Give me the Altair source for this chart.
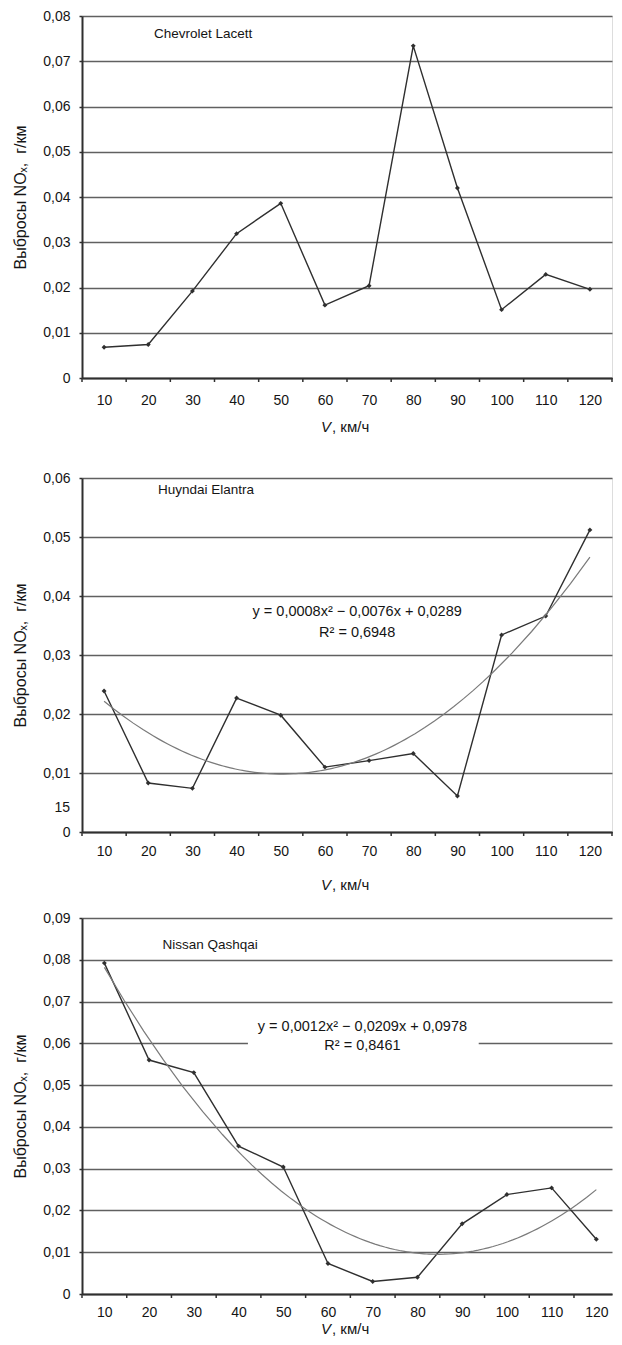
import altair as alt
import pandas as pd

# ---------------- data ----------------
speeds = [10, 20, 30, 40, 50, 60, 70, 80, 90, 100, 110, 120]
chevrolet_nox = [0.0068, 0.0074, 0.0192, 0.0319, 0.0386, 0.0161, 0.0204, 0.0734, 0.0420, 0.0151, 0.0229, 0.0196]
hyundai_nox = [0.0239, 0.0083, 0.0074, 0.0227, 0.0198, 0.0110, 0.0121, 0.0133, 0.0061, 0.0334, 0.0366, 0.0512]
nissan_nox = [0.0792, 0.0560, 0.0530, 0.0354, 0.0304, 0.0073, 0.0030, 0.0040, 0.0168, 0.0238, 0.0254, 0.0131]

car_names = ["Chevrolet Lacett", "Huyndai Elantra", "Nissan Qashqai"]
y_maxima = [0.08, 0.06, 0.09]
equations = [
    None,
    ("y = 0,0008x² − 0,0076x + 0,0289", "R² = 0,6948"),
    ("y = 0,0012x² − 0,0209x + 0,0978", "R² = 0,8461"),
]
x_boundaries = [5, 15, 25, 35, 45, 55, 65, 75, 85, 95, 105, 115, 125]
y_title = "Выбросы NOₓ,\u00a0 г/км"
x_title_v = "V"
x_title_rest = ", км/ч"
stray_label = "15"

# ---------------- style ----------------
FONT = "Liberation Sans, Arial, Helvetica, sans-serif"
INK = "#2f2f2f"
GRID = "#606060"
TREND = "#7a7a7a"
TXT = "#151515"

Y_LABEL_EXPR = "datum.value == 0 ? '0' : replace(format(datum.value, '.2f'), '.', ',')"

one = pd.DataFrame({"k": [0]})


def panel(values, name, ymax, eq, width, height, xmax, xlab_pad, xtitle_dy,
          name_pos, eq_pos=None, box=None, stray=False, border=True):
    df = pd.DataFrame({"v": speeds, "nox": values})
    ticks_df = pd.DataFrame({"b": [b for b in x_boundaries if b <= xmax]})
    yvals = [round(i / 100, 2) for i in range(int(round(ymax * 100)) + 1)]
    xscale = alt.Scale(domain=[5, xmax], nice=False, zero=False)
    x = alt.X(
        "v:Q",
        scale=xscale,
        axis=alt.Axis(
            values=speeds, format="d", labelFlush=False, labelOverlap=False, grid=False,
            title=None, ticks=False, domainColor=INK, domainWidth=2,
            labelPadding=xlab_pad + 4, labelFont=FONT, labelFontSize=14, labelColor=TXT,
        ),
    )
    y = alt.Y(
        "nox:Q",
        scale=alt.Scale(domain=[0, ymax], nice=False, zero=True),
        axis=alt.Axis(
            values=yvals, labelExpr=Y_LABEL_EXPR, grid=True, gridColor=GRID, gridWidth=1.4,
            tickSize=3, tickWidth=1.5, tickColor=INK, domainColor=INK, domainWidth=2,
            labelPadding=9, labelFont=FONT, labelFontSize=14, labelColor=TXT,
            title=y_title, titleFont=FONT, titleFontSize=16, titleFontWeight="normal",
            titleColor=TXT, titlePadding=14,
        ),
    )
    base = alt.Chart(df)
    layers = []
    if box is not None:
        layers.append(
            alt.Chart(one).mark_rect(color="white").encode(
                x=alt.datum(box[0]), x2=alt.datum(box[1]), y=alt.datum(box[2]), y2=alt.datum(box[3])
            )
        )
    layers.append(base.mark_line(color=INK, strokeWidth=1.4).encode(x=x, y=y))
    layers.append(
        base.mark_point(shape="diamond", filled=True, size=24, color=INK, opacity=1).encode(x=x, y=y)
    )
    layers.append(
        alt.Chart(ticks_df).mark_rule(color=INK, strokeWidth=1.5).encode(
            x=alt.X("b:Q", scale=xscale), y=alt.value(height), y2=alt.value(height + 4)
        )
    )
    if eq is not None:
        layers.append(
            base.transform_regression("v", "nox", method="poly", order=2)
            .mark_line(color=TREND, strokeWidth=1.2)
            .encode(x=x, y=y)
        )
        layers.append(
            alt.Chart(one).mark_text(text=eq[0], font=FONT, fontSize=14.5, color=TXT).encode(
                x=alt.datum(eq_pos[0]), y=alt.datum(eq_pos[1])
            )
        )
        layers.append(
            alt.Chart(one).mark_text(text=eq[1], font=FONT, fontSize=14.5, color=TXT).encode(
                x=alt.datum(eq_pos[0]), y=alt.datum(eq_pos[2])
            )
        )
    layers.append(
        alt.Chart(one).mark_text(text=name, font=FONT, fontSize=13.5, color=TXT, align="left").encode(
            x=alt.datum(name_pos[0]), y=alt.datum(name_pos[1])
        )
    )
    if stray:
        layers.append(
            alt.Chart(one).mark_text(text=stray_label, font=FONT, fontSize=14, color=TXT, align="right").encode(
                x=alt.value(-12), y=alt.datum(0.0041)
            )
        )
    cx = width / 2 - 4
    layers.append(
        alt.Chart(one).mark_text(text=x_title_v, font=FONT, fontSize=15, fontStyle="italic",
                                 color=TXT, align="right").encode(
            x=alt.value(cx - 12), y=alt.value(height + xtitle_dy)
        )
    )
    layers.append(
        alt.Chart(one).mark_text(text=x_title_rest, font=FONT, fontSize=15, color=TXT, align="left").encode(
            x=alt.value(cx - 11), y=alt.value(height + xtitle_dy)
        )
    )
    chart = alt.layer(*layers).properties(width=width, height=height)
    if not border:
        chart = chart.properties(view=alt.ViewBackground(stroke=None))
    return chart


p1 = panel(chevrolet_nox, car_names[0], y_maxima[0], equations[0], width=530, height=362,
           xmax=125, xlab_pad=11, xtitle_dy=49, name_pos=(21.3, 0.0760))
p2 = panel(hyundai_nox, car_names[1], y_maxima[1], equations[1], width=530, height=354,
           xmax=125, xlab_pad=8, xtitle_dy=53, name_pos=(22.2, 0.0580),
           eq_pos=(67.3, 0.0373, 0.0337), stray=True)
p3 = panel(nissan_nox, car_names[2], y_maxima[2], equations[2], width=530, height=376,
           xmax=123.5, xlab_pad=7, xtitle_dy=35, name_pos=(23.0, 0.0835),
           eq_pos=(67.7, 0.0639, 0.0594), box=(42.1, 93.7, 0.057, 0.0675), border=False)

inner = alt.vconcat(p2, p3, spacing=17)
chart = (
    alt.vconcat(p1, inner, spacing=34)
    .properties(padding={"left": 4, "top": 0, "right": 0, "bottom": 0})
    .configure_view(stroke="#8a8a8a", strokeWidth=2)
    .configure(background="white")
)

chart.save("out.html", embed_options={"renderer": "svg", "actions": False})
